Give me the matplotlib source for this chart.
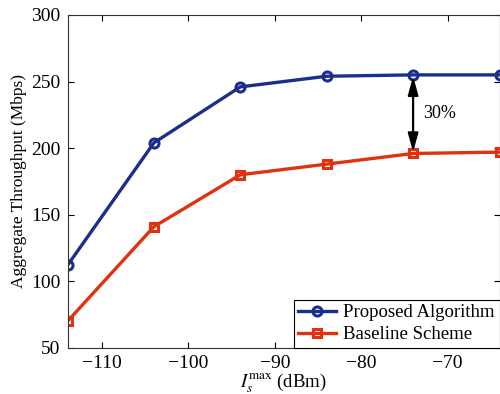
import matplotlib
matplotlib.use("Agg")
import matplotlib.pyplot as plt

# --- Datos ---
interference = [-114, -104, -94, -84, -74, -64]
proposed = [112, 204, 246, 254, 255, 255]
baseline = [70, 141, 180, 188, 196, 197]
x_ticks = [-110, -100, -90, -80, -70]
y_ticks = [50, 100, 150, 200, 250, 300]

plt.rcParams["font.family"] = ["Liberation Serif", "DejaVu Serif"]
plt.rcParams["mathtext.fontset"] = "stix"

fig = plt.figure(figsize=(5.0, 3.94), dpi=100)
ax = fig.add_axes([0.135, 0.117, 0.864, 0.845])

ax.plot(interference, proposed, color="#1c2e8c", linewidth=2.4, marker="o",
        markersize=6.5, markerfacecolor="none", markeredgewidth=2.2,
        label="Proposed Algorithm")
ax.plot(interference, baseline, color="#e0320f", linewidth=2.4, marker="s",
        markersize=6, markerfacecolor="none", markeredgewidth=2.2,
        label="Baseline Scheme")

# Flecha de mejora (30%)
ax.annotate("", xy=(interference[4], proposed[4] - 1),
            xytext=(interference[4], baseline[4] + 1),
            arrowprops=dict(arrowstyle="<|-|>,head_length=0.8,head_width=0.22",
                            color="black", lw=1.6,
                            mutation_scale=14, shrinkA=0, shrinkB=0))
ax.text(interference[4] + 1.2, 226, "30%", fontsize=13, va="center")

ax.set_xlim(-114, -64)
ax.set_ylim(50, 300)
ax.set_xticks(x_ticks)
ax.set_yticks(y_ticks)
ax.set_xticklabels([f"\u2212{abs(t)}" for t in x_ticks])
ax.tick_params(direction="in", labelsize=14, length=4, top=True, right=True,
               pad=5)
ax.set_xlabel(r"$I_s^{\max}$ (dBm)", fontsize=13.5, labelpad=0)
ax.set_ylabel("Aggregate Throughput (Mbps)", fontsize=12.5, labelpad=3)
for s in ax.spines.values():
    s.set_color("#333333")
    s.set_linewidth(0.8)

leg = ax.legend(loc="lower right", fontsize=13.5, fancybox=False,
                framealpha=1, edgecolor="black", borderaxespad=0,
                handlelength=2.0, handletextpad=0.4, borderpad=0.25,
                labelspacing=0.25)
leg.get_frame().set_linewidth(0.8)

fig.savefig("out.png", dpi=100)
